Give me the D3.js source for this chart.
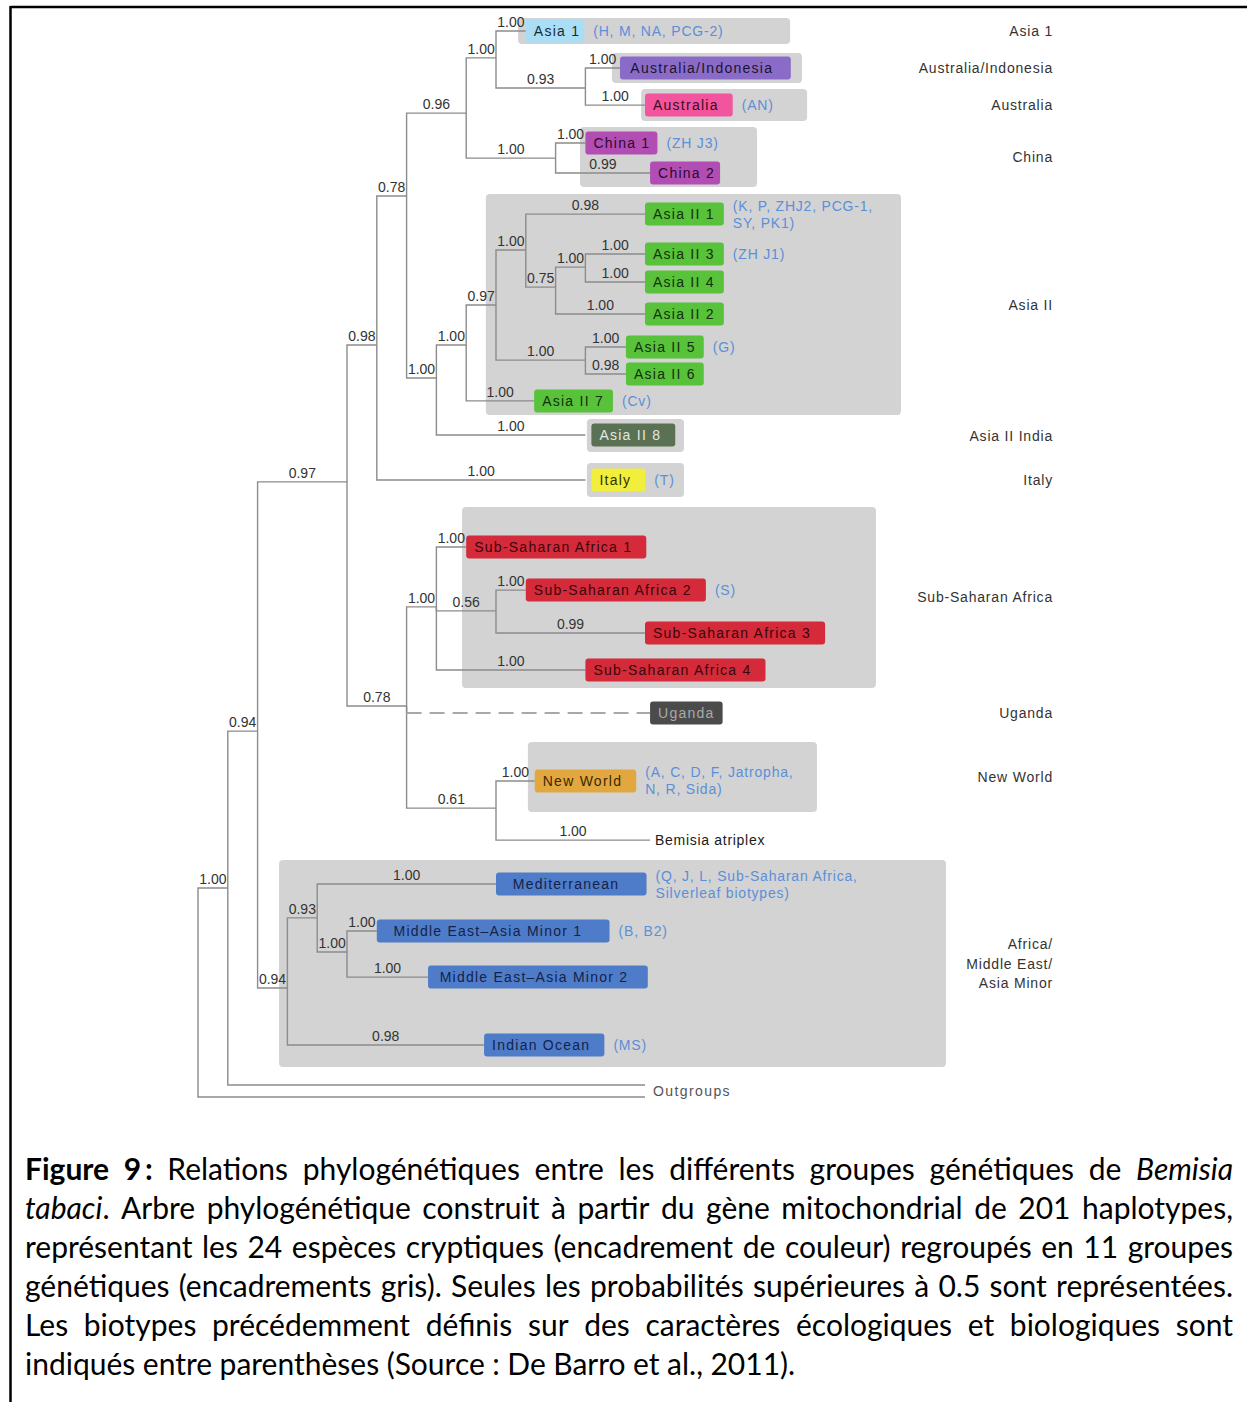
<!DOCTYPE html>
<html>
<head>
<meta charset="utf-8">
<script src="https://cdn.jsdelivr.net/npm/d3@7"></script>
<style>
  body { margin: 0; background: #fff; }
  svg { display: block; }
</style>
</head>
<body>
<svg width="1247" height="1402"></svg>
<script>
// tree nodes: id, parent, level (branch depth), row (vertical slot), posterior probability
var tree = [
  ["root", null, 0, 36.1, null],
  ["n1", "root", 1, 32.16, "1.00"],
  ["Outgroup 2", "root", 15, 40.0, null],
  ["n2", "n1", 2, 26.27, "0.94"],
  ["Outgroup 1", "n1", 15, 39.55, null],
  ["n3", "n2", 5, 16.92, "0.97"],
  ["n4", "n2", 3, 35.91, "0.94"],
  ["n5", "n3", 6, 11.78, "0.98"],
  ["n6", "n3", 7, 25.33, "0.78"],
  ["n7", "n5", 7, 6.19, "0.78"],
  ["Italy", "n5", 13, 16.85, "1.00"],
  ["n8", "n7", 9, 3.08, "0.96"],
  ["n9", "n7", 8, 13.02, "1.00"],
  ["n10", "n8", 10, 1.01, "1.00"],
  ["Asia 1", "n10", 11, 0, "1.00"],
  ["n11", "n10", 13, 2.14, "0.93"],
  ["Australia/Indonesia", "n11", 14.16, 1.39, "1.00"],
  ["Australia", "n11", 15, 2.78, "1.00"],
  ["n12", "n8", 12, 4.77, "1.00"],
  ["China 1", "n12", 13, 4.2, "1.00"],
  ["China 2", "n12", 15.17, 5.33, "0.99"],
  ["n13", "n9", 9, 11.78, "1.00"],
  ["Asia II 8", "n9", 13, 15.16, "1.00"],
  ["n14", "n13", 10, 10.28, "0.97"],
  ["Asia II 7", "n13", 11.28, 13.88, "1.00"],
  ["n15", "n14", 11, 8.22, "1.00"],
  ["n16", "n14", 13, 12.35, "1.00"],
  ["Asia II 1", "n15", 15, 6.87, "0.98"],
  ["n17", "n15", 12, 9.61, "0.75"],
  ["n18", "n17", 13, 8.86, "1.00"],
  ["Asia II 2", "n17", 15, 10.62, "1.00"],
  ["Asia II 3", "n18", 15, 8.37, "1.00"],
  ["Asia II 4", "n18", 15, 9.42, "1.00"],
  ["Asia II 5", "n16", 14.36, 11.86, "1.00"],
  ["Asia II 6", "n16", 14.36, 12.87, "0.98"],
  ["n19", "n6", 8, 21.61, "1.00"],
  ["Uganda", "n6", 15.17, 25.59, null],
  ["n20", "n6", 10, 29.16, "0.61"],
  ["Sub-Saharan Africa 1", "n19", 9, 19.36, "1.00"],
  ["n21", "n19", 10, 21.76, "0.56"],
  ["Sub-Saharan Africa 4", "n19", 13, 23.98, "1.00"],
  ["Sub-Saharan Africa 2", "n21", 11, 20.98, "1.00"],
  ["Sub-Saharan Africa 3", "n21", 15, 22.59, "0.99"],
  ["New World", "n20", 11.3, 28.14, "1.00"],
  ["Bemisia atriplex", "n20", 15.17, 30.36, "1.00"],
  ["n22", "n4", 4, 33.28, "0.93"],
  ["Indian Ocean", "n4", 9.6, 38.05, "0.98"],
  ["Mediterranean", "n22", 10, 32.01, "1.00"],
  ["n23", "n22", 5, 34.56, "1.00"],
  ["Middle East\u2013Asia Minor 1", "n23", 6, 33.77, "1.00"],
  ["Middle East\u2013Asia Minor 2", "n23", 7.72, 35.5, "1.00"]
];

// cryptic species (coloured boxes) and their clade
var species = ["Asia 1", "Australia/Indonesia", "Australia", "China 1", "China 2",
  "Asia II 1", "Asia II 3", "Asia II 4", "Asia II 2", "Asia II 5", "Asia II 6", "Asia II 7",
  "Asia II 8", "Italy", "Sub-Saharan Africa 1", "Sub-Saharan Africa 2", "Sub-Saharan Africa 3",
  "Sub-Saharan Africa 4", "Uganda", "New World", "Mediterranean",
  "Middle East\u2013Asia Minor 1", "Middle East\u2013Asia Minor 2", "Indian Ocean"];
var speciesClade = ["asia1", "ausind", "aus", "china", "china",
  "asia2", "asia2", "asia2", "asia2", "asia2", "asia2", "asia2",
  "asia2india", "italy", "ssa", "ssa", "ssa", "ssa", "uganda", "nw", "meam", "meam", "meam", "meam"];

// biotypes written after the species box
var biotypeSpecies = ["Asia 1", "Australia", "China 1", "Asia II 1", "Asia II 3", "Asia II 5",
  "Asia II 7", "Italy", "Sub-Saharan Africa 2", "New World", "Mediterranean",
  "Middle East\u2013Asia Minor 1", "Indian Ocean"];
var biotypes = [["(H, M, NA, PCG-2)"], ["(AN)"], ["(ZH J3)"], ["(K, P, ZHJ2, PCG-1,", "SY, PK1)"],
  ["(ZH J1)"], ["(G)"], ["(Cv)"], ["(T)"], ["(S)"], ["(A, C, D, F, Jatropha,", "N, R, Sida)"],
  ["(Q, J, L, Sub-Saharan Africa,", "Silverleaf biotypes)"], ["(B, B2)"], ["(MS)"]];

// genetic groups (grey frames), spans in tree units
var groupNames = ["Asia 1", "Australia/Indonesia", "Australia", "China", "Asia II", "Asia II India",
  "Italy", "Sub-Saharan Africa", "Uganda", "New World", "Africa/|Middle East/|Asia Minor"];
var groupLevels = [[10.74, 19.87], [13.89, 20.27], [14.87, 20.44], [12.82, 18.76], [9.66, 23.59],
  [13.05, 16.31], [13.05, 16.31], [8.86, 22.75], null, [11.07, 20.77], [2.72, 25.1]];
var groupRows = [[-0.49, 0.49], [0.83, 1.95], [2.18, 3.38], [3.6, 5.85], [6.12, 14.41],
  [14.56, 15.8], [16.21, 17.49], [17.86, 24.65], [25.59, 25.59], [26.68, 29.31], [31.11, 38.87]];

var caption = [
  "**Figure** **9\u2009:** Relations phylog\u00e9n\u00e9tiques entre les diff\u00e9rents groupes g\u00e9n\u00e9tiques de *Bemisia*",
  "*tabaci*. Arbre phylog\u00e9n\u00e9tique construit \u00e0 partir du g\u00e8ne mitochondrial de 201 haplotypes,",
  "repr\u00e9sentant les 24 esp\u00e8ces cryptiques (encadrement de couleur) regroup\u00e9s en 11 groupes",
  "g\u00e9n\u00e9tiques (encadrements gris). Seules les probabilit\u00e9s sup\u00e9rieures \u00e0 0.5 sont repr\u00e9sent\u00e9es.",
  "Les biotypes pr\u00e9c\u00e9demment d\u00e9finis sur des caract\u00e8res \u00e9cologiques et biologiques sont",
  "indiqu\u00e9s entre parenth\u00e8ses (Source : De Barro et al., 2011)."
];

var svg = d3.select("svg"),
    treeFont = "'Liberation Sans', Arial, sans-serif";

var x = d3.scaleLinear().domain([0, 15]).range([198, 645]),
    y = d3.scaleLinear().domain([0, 40]).range([31, 1097]);

var fill = d3.scaleOrdinal()
    .domain(["asia1", "ausind", "aus", "china", "asia2", "asia2india", "italy", "ssa", "uganda", "nw", "meam"])
    .range(["#a9def6", "#8a6cc8", "#f2559e", "#b24db4", "#58c23a", "#5a7153", "#f1ee3c", "#d42a39", "#4b4b4b", "#e2a83f", "#4f7cc8"]);
var ink = d3.scaleOrdinal()
    .domain(["asia1", "ausind", "aus", "china", "asia2", "asia2india", "italy", "ssa", "uganda", "nw", "meam"])
    .range(["#1d2a33", "#1c1430", "#3a0c22", "#2a0a2c", "#14300c", "#e4e8e2", "#333300", "#3a070c", "#a9a9a9", "#3a2800", "#13234a"]);

var dashed = ["Uganda"],
    inset = {"Asia II 8": 6, "Italy": 6},
    padL = 8, padR = 14;
// boxes drawn a little wider or narrower than their text in the original
var boxExtra = {"Asia 1": -10, "Australia/Indonesia": 6, "China 1": -7, "China 2": -9,
  "Asia II 1": -5, "Asia II 2": -5, "Asia II 3": -5, "Asia II 4": -5, "Asia II 5": -6, "Asia II 6": -6,
  "Asia II 7": -5, "Uganda": -6, "Mediterranean": 22, "Middle East\u2013Asia Minor 1": 22,
  "Middle East\u2013Asia Minor 2": 9};

// frame
svg.append("line").attr("x1", 10.5).attr("x2", 1247).attr("y1", 7).attr("y2", 7)
    .attr("stroke", "#000").attr("stroke-width", 2.5);
svg.append("line").attr("x1", 10.5).attr("x2", 10.5).attr("y1", 6).attr("y2", 1402)
    .attr("stroke", "#000").attr("stroke-width", 2.5);

var root = d3.stratify().id(function(d) { return d[0]; }).parentId(function(d) { return d[1]; })(tree);
function px(d) { return x(d.data[2]); }
function py(d) { return y(d.data[3]); }

// grey group frames
var groups = groupNames.map(function(n, i) { return {name: n, lv: groupLevels[i], rw: groupRows[i]}; });
svg.append("g").selectAll("rect")
  .data(groups.filter(function(d) { return d.lv; }))
  .join("rect")
    .attr("x", function(d) { return x(d.lv[0]); })
    .attr("y", function(d) { return y(d.rw[0]); })
    .attr("width", function(d) { return x(d.lv[1]) - x(d.lv[0]); })
    .attr("height", function(d) { return y(d.rw[1]) - y(d.rw[0]); })
    .attr("rx", 4)
    .attr("fill", "#d3d3d3");

// branches
var links = root.links();
var branch = svg.append("g").attr("fill", "none").attr("stroke", "#8c8c8c").attr("stroke-width", 1.4);
branch.selectAll("path.solid")
  .data(links.filter(function(d) { return dashed.indexOf(d.target.id) < 0; }))
  .join("path")
    .attr("class", "solid")
    .attr("d", function(d) { return "M" + px(d.source) + "," + py(d.source) + "V" + py(d.target) + "H" + px(d.target); });
var dl = links.filter(function(d) { return dashed.indexOf(d.target.id) >= 0; });
branch.selectAll("path.vert").data(dl).join("path")
    .attr("class", "vert")
    .attr("d", function(d) { return "M" + px(d.source) + "," + py(d.source) + "V" + py(d.target); });
branch.selectAll("path.dash").data(dl).join("path")
    .attr("class", "dash")
    .attr("stroke", "#a8a8a8").attr("stroke-width", 2)
    .attr("stroke-dasharray", "15,8")
    .attr("d", function(d) { return "M" + px(d.source) + "," + py(d.target) + "H" + px(d.target); });

// posterior probabilities
svg.append("g").attr("font-family", treeFont).attr("font-size", 14).attr("fill", "#333")
    .attr("text-anchor", "middle")
  .selectAll("text")
  .data(links.filter(function(d) { return d.target.data[4]; }))
  .join("text")
    .attr("x", function(d) { return (px(d.source) + px(d.target)) / 2; })
    .attr("y", function(d) { return py(d.target) - 4; })
    .text(function(d) { return d.target.data[4]; });

// species boxes
var leaves = root.leaves().filter(function(d) { return species.indexOf(d.id) >= 0; });
var leaf = svg.append("g").attr("font-family", treeFont).attr("font-size", 14)
  .selectAll("g").data(leaves).join("g")
    .attr("transform", function(d) { return "translate(" + (px(d) + (inset[d.id] || 0)) + "," + py(d) + ")"; });
leaf.append("rect")
    .attr("y", -11.5).attr("height", 23).attr("rx", 3)
    .attr("fill", function(d) { return fill(speciesClade[species.indexOf(d.id)]); });
leaf.append("text")
    .attr("x", function(d) { return padL + Math.max(0, (boxExtra[d.id] || 0) * 0.4); })
    .attr("dy", "0.36em")
    .attr("letter-spacing", 1.25)
    .attr("fill", function(d) { return ink(speciesClade[species.indexOf(d.id)]); })
    .text(function(d) { return d.id; });
leaf.each(function(d) {
  var g = d3.select(this);
  d.boxW = g.select("text").node().getComputedTextLength() + padL + padR + (boxExtra[d.id] || 0);
  g.select("rect").attr("width", d.boxW);
});

// biotypes
leaf.filter(function(d) { return biotypeSpecies.indexOf(d.id) >= 0; })
  .append("text")
    .attr("fill", "#5b8fd8").attr("letter-spacing", 0.8)
    .attr("transform", function(d) { return "translate(" + (d.boxW + 9) + ",0)"; })
  .selectAll("tspan")
  .data(function(d) { var b = biotypes[biotypeSpecies.indexOf(d.id)]; return b.map(function(t) { return {t: t, n: b.length}; }); })
  .join("tspan")
    .attr("x", 0)
    .attr("y", function(d, i) { return d.n === 1 ? 0 : (i === 0 ? -8.5 : 8.5); })
    .attr("dy", "0.36em")
    .text(function(d) { return d.t; });

// plain leaf labels
var plain = root.leaves().filter(function(d) { return d.id === "Bemisia atriplex"; });
svg.append("g").attr("font-family", treeFont).attr("font-size", 14).attr("fill", "#1a1a1a")
  .selectAll("text").data(plain).join("text")
    .attr("x", function(d) { return px(d) + 5; })
    .attr("y", function(d) { return py(d); })
    .attr("dy", "0.36em").attr("letter-spacing", 0.7)
    .text(function(d) { return d.id; });
var outs = root.leaves().filter(function(d) { return d.id.indexOf("Outgroup") === 0; });
svg.append("text")
    .attr("font-family", treeFont).attr("font-size", 14).attr("fill", "#555").attr("letter-spacing", 1.4)
    .attr("x", d3.max(outs, px) + 8)
    .attr("y", d3.mean(outs, py))
    .attr("dy", "0.36em")
    .text("Outgroups");

// group names on the right
svg.append("g").attr("font-family", treeFont).attr("font-size", 14).attr("fill", "#333")
    .attr("text-anchor", "end").attr("letter-spacing", 0.8)
  .selectAll("text").data(groups).join("text")
    .attr("transform", function(d) { return "translate(1053," + y((d.rw[0] + d.rw[1]) / 2) + ")"; })
  .selectAll("tspan")
  .data(function(d) { var p = d.name.split("|"); return p.map(function(t, i) { return {t: t, i: i, n: p.length}; }); })
  .join("tspan")
    .attr("x", 0)
    .attr("y", function(d) { return (d.i - (d.n - 1) / 2) * 19.5; })
    .attr("dy", "0.36em")
    .text(function(d) { return d.t; });

// caption, justified between the margins
var capLeft = 25, capRight = 1233, capTop = 1180, capStep = 39;
var cap = svg.append("g").attr("font-family", "Lato, 'Open Sans', sans-serif").attr("font-size", 30).attr("fill", "#000");
caption.forEach(function(line, li) {
  var words = line.split(" ");
  var texts = words.map(function(w) {
    var t = cap.append("text").attr("y", capTop + li * capStep);
    var re = /\*\*([^*]+)\*\*|\*([^*]+)\*|([^*]+)/g, m;
    while ((m = re.exec(w))) {
      t.append("tspan")
        .attr("font-weight", m[1] ? "bold" : null)
        .attr("font-style", m[2] ? "italic" : null)
        .text(m[1] || m[2] || m[3]);
    }
    return t;
  });
  var widths = texts.map(function(t) { return t.node().getComputedTextLength(); });
  var last = li === caption.length - 1;
  var gap = last ? 7.5 : (capRight - capLeft - d3.sum(widths)) / (words.length - 1);
  var cx = capLeft;
  texts.forEach(function(t, i) { t.attr("x", cx); cx += widths[i] + gap; });
});
</script>
</body>
</html>
